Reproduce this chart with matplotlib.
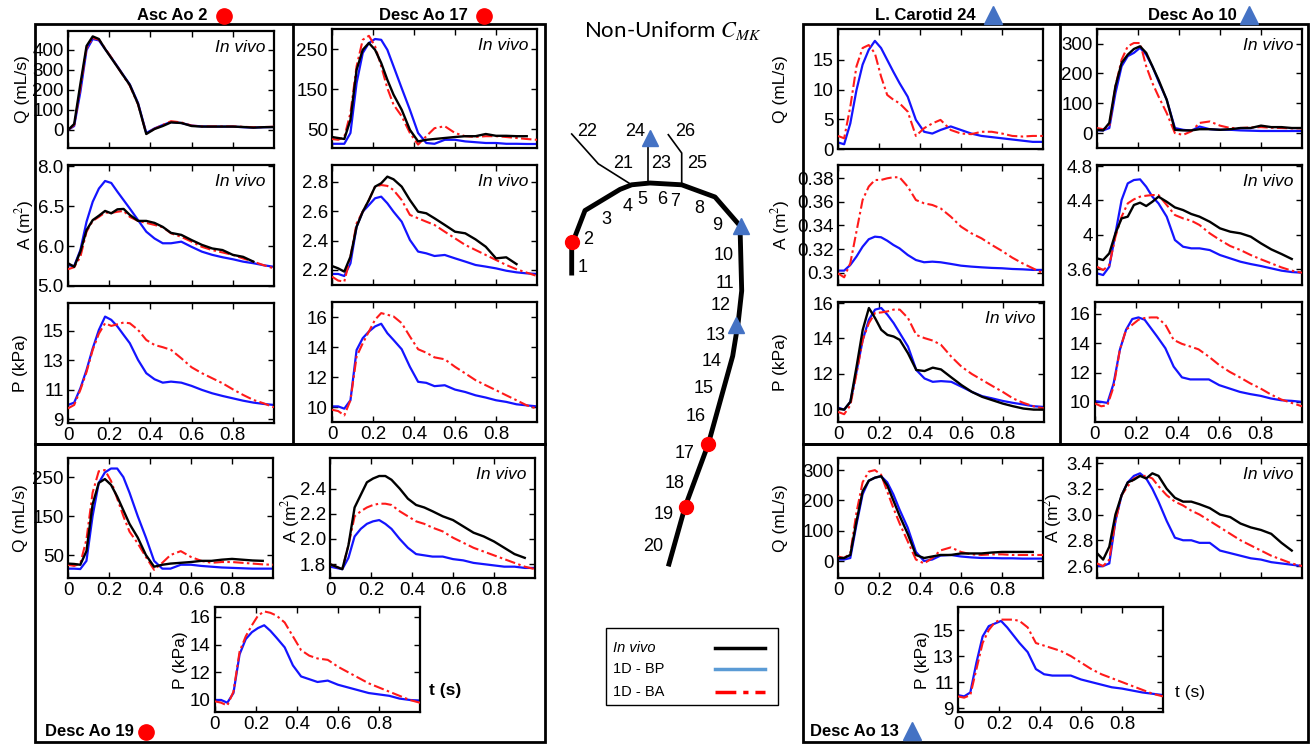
import numpy as np
import matplotlib
matplotlib.use("Agg")
import matplotlib.pyplot as plt
from matplotlib.patches import Rectangle

plt.rcParams['font.family'] = ['Liberation Sans', 'DejaVu Sans']
plt.rcParams['mathtext.fontset'] = 'stix'

nan = np.nan
W, H = 1311, 746

# ---------------- data ----------------
T = [0, .03, .06, .09, .12, .15, .18, .21, .24, .27, .30, .34, .38, .42, .46, .50,
     .55, .60, .65, .70, .75, .80, .85, .90, .95, 1.0]

# Asc Ao 2
asc_q_vivo = [0, 30, 230, 420, 468, 455, 405, 360, 315, 270, 225, 130, -20, 5, 20, 38, 35, 20, 17, 17, 17, 17, 15, 12, 14, 15]
asc_q_bp = [0, 20, 190, 400, 455, 448, 405, 362, 318, 272, 228, 135, -15, 8, 25, 40, 35, 22, 18, 17, 17, 17, 14, 12, 14, 15]
asc_q_ba = [0, 25, 210, 410, 460, 452, 408, 363, 316, 268, 222, 128, -18, 6, 25, 44, 38, 22, 18, 18, 18, 18, 16, 14, 15, 16]
asc_a_vivo = [5.57, 5.48, 5.86, 6.40, 6.65, 6.76, 6.88, 6.82, 6.92, 6.93, 6.78, 6.63, 6.63, 6.58, 6.48, 6.33, 6.28, 6.15, 6.03, 5.94, 5.90, 5.78, 5.73, 5.61, nan, nan]
asc_a_ba = [5.42, 5.47, 5.73, 6.36, 6.63, 6.73, 6.84, 6.83, 6.86, 6.88, 6.73, 6.63, 6.58, 6.53, 6.47, 6.32, 6.23, 6.11, 5.98, 5.90, 5.84, 5.78, 5.69, 5.61, 5.52, 5.44]
asc_a_bp = [5.52, 5.50, 5.90, 6.61, 7.11, 7.44, 7.63, 7.58, 7.36, 7.15, 6.94, 6.65, 6.36, 6.19, 6.07, 6.07, 6.11, 5.98, 5.86, 5.78, 5.72, 5.67, 5.61, 5.57, 5.52, 5.48]
asc_p_ba = [9.74, 9.97, 10.99, 12.2, 13.7, 14.8, 15.5, 15.32, 15.43, 15.55, 15.5, 15.05, 14.37, 14.03, 13.88, 13.7, 13.13, 12.52, 12.12, 11.78, 11.44, 11.03, 10.65, 10.31, 10.08, 9.81]
asc_p_bp = [9.97, 10.13, 11.1, 12.34, 13.8, 15.05, 15.95, 15.73, 15.28, 14.71, 14.15, 13.02, 12.12, 11.71, 11.48, 11.55, 11.48, 11.26, 10.99, 10.76, 10.58, 10.42, 10.26, 10.13, 10.04, 9.97]

# Desc Ao 17
d17_q_vivo = [30, 27.5, 25, 73, 198, 248, 265, 248, 215, 173, 136, 98, 48, 19, 23, 25, 27.5, 30, 32, 32, 37.5, 33, 33, 32, 32, nan]
d17_q_ba = [25, 23, 30, 90, 207, 273, 283, 257, 207, 152, 111, 82, 40, 11, 32, 52, 57, 40, 32, 30, 32, 32, 30, 27.5, 25, 23]
d17_q_bp = [13, 13, 13, 40, 165, 240, 265, 275, 273, 248, 207, 152, 98, 40, 15, 13, 23, 23, 19, 17, 15, 15, 13, 13, 12.5, 12.5]
d17_a_vivo = [2.227, 2.211, 2.189, 2.29, 2.494, 2.596, 2.675, 2.766, 2.789, 2.834, 2.816, 2.766, 2.675, 2.596, 2.585, 2.551, 2.506, 2.46, 2.449, 2.408, 2.358, 2.279, 2.286, 2.24, nan, nan]
d17_a_ba = [2.155, 2.128, 2.121, 2.29, 2.517, 2.596, 2.675, 2.766, 2.777, 2.771, 2.743, 2.675, 2.574, 2.551, 2.528, 2.506, 2.46, 2.415, 2.37, 2.336, 2.302, 2.268, 2.234, 2.205, 2.182, 2.159]
d17_a_bp = [2.173, 2.173, 2.159, 2.245, 2.494, 2.596, 2.641, 2.687, 2.698, 2.653, 2.596, 2.528, 2.404, 2.325, 2.313, 2.295, 2.302, 2.279, 2.257, 2.234, 2.223, 2.211, 2.195, 2.184, 2.177, 2.173]
d17_p_ba = [9.82, 9.73, 9.44, 10.45, 13.36, 14.25, 15.03, 15.82, 16.26, 16.15, 16.04, 15.59, 14.7, 13.85, 13.62, 13.31, 13.18, 12.68, 12.24, 11.79, 11.45, 11.12, 10.78, 10.45, 10.11, 9.89]
d17_p_bp = [10.04, 10.04, 9.89, 10.45, 13.8, 14.59, 15.03, 15.37, 15.55, 14.92, 14.47, 13.85, 12.68, 11.68, 11.61, 11.39, 11.45, 11.16, 11.0, 10.78, 10.63, 10.45, 10.34, 10.18, 10.11, 10.04]

# L. Carotid 24
lc_q_bp = [1.1, 0.8, 4.3, 9.9, 14.2, 16.7, 18.2, 17.0, 15.0, 13.0, 11.1, 8.8, 4.9, 2.9, 2.6, 3.2, 3.8, 3.2, 2.6, 2.2, 2.0, 1.8, 1.6, 1.4, 1.2, 1.2]
lc_q_ba = [2.2, 1.8, 7.1, 13.9, 17.0, 17.5, 16.1, 12.2, 9.1, 8.3, 7.7, 6.3, 2.2, 3.5, 4.3, 4.9, 3.2, 2.6, 2.5, 2.9, 2.9, 2.6, 2.2, 2.1, 2.2, 2.2]
lc_a_ba = [0.2994, 0.296, 0.308, 0.3348, 0.3616, 0.373, 0.3786, 0.3786, 0.38, 0.3809, 0.3809, 0.373, 0.3616, 0.3588, 0.3574, 0.3546, 0.3475, 0.339, 0.3334, 0.3291, 0.3235, 0.3184, 0.3127, 0.3079, 0.3037, 0.2994]
lc_a_bp = [0.3017, 0.3017, 0.3065, 0.3136, 0.322, 0.3283, 0.3305, 0.33, 0.3271, 0.3235, 0.3206, 0.315, 0.3107, 0.3088, 0.3093, 0.3088, 0.3074, 0.3059, 0.3051, 0.3045, 0.304, 0.3037, 0.3031, 0.3028, 0.3023, 0.3023]
lc_p_vivo = [10.04, 9.98, 10.42, 12.4, 14.49, 15.72, 15.15, 14.49, 14.2, 14.11, 13.92, 13.16, 12.22, 12.16, 12.35, 12.25, 11.8, 11.36, 10.98, 10.7, 10.51, 10.32, 10.17, 10.04, 9.98, 9.98]
lc_p_bp = [10.09, 9.98, 10.42, 12.12, 13.92, 15.06, 15.63, 15.72, 15.34, 14.87, 14.3, 13.54, 12.22, 11.74, 11.55, 11.59, 11.55, 11.27, 10.98, 10.74, 10.61, 10.47, 10.36, 10.27, 10.17, 10.13]
lc_p_ba = [9.85, 9.72, 10.23, 12.03, 13.92, 14.87, 15.44, 15.47, 15.53, 15.63, 15.63, 15.15, 14.2, 14.02, 13.88, 13.64, 12.97, 12.4, 11.99, 11.65, 11.31, 10.98, 10.61, 10.36, 10.17, 10.04]

# Desc Ao 10
d10_q_vivo = [11, 9, 34, 157, 235, 263, 282, 291, 269, 224, 179, 112, 11, 9, 9, 13, 13, 11, 13, 17, 17, 25, 20, 20, 17, 17]
d10_q_bp = [9, 9, 17, 134, 224, 258, 269, 286, 263, 224, 174, 112, 17, 11, 8, 22, 13, 11, 11, 9, 8, 7, 7, 7, 7, 7]
d10_q_ba = [17, 13, 22, 157, 246, 291, 302, 302, 224, 168, 123, 67, 0, -6, 6, 34, 39, 25, 17, 17, 19, 20, 18, 17, 16, 16]
d10_a_vivo = [3.724, 3.705, 3.783, 4.016, 4.19, 4.21, 4.346, 4.373, 4.334, 4.384, 4.443, 4.384, 4.318, 4.287, 4.241, 4.21, 4.151, 4.074, 4.035, 4.016, 3.977, 3.899, 3.829, 3.775, 3.717, nan]
d10_a_ba = [3.627, 3.588, 3.647, 3.977, 4.21, 4.365, 4.412, 4.443, 4.454, 4.462, 4.462, 4.346, 4.229, 4.19, 4.163, 4.113, 4.016, 3.938, 3.868, 3.821, 3.763, 3.713, 3.666, 3.619, 3.581, 3.557]
d10_a_bp = [3.55, 3.53, 3.627, 4.016, 4.404, 4.598, 4.637, 4.645, 4.559, 4.443, 4.365, 4.21, 3.938, 3.86, 3.841, 3.841, 3.821, 3.763, 3.724, 3.685, 3.658, 3.635, 3.608, 3.581, 3.565, 3.557]
d10_p_bp = [10.05, 10.0, 9.93, 11.26, 13.54, 14.91, 15.64, 15.75, 15.59, 15.02, 14.45, 13.65, 12.4, 11.67, 11.53, 11.53, 11.53, 11.14, 10.91, 10.68, 10.53, 10.41, 10.23, 10.11, 10.07, 10.0]
d10_p_ba = [9.89, 9.7, 9.77, 11.03, 13.54, 14.91, 15.25, 15.59, 15.71, 15.75, 15.75, 15.25, 14.22, 13.95, 13.77, 13.58, 13.08, 12.51, 12.05, 11.67, 11.26, 10.91, 10.5, 10.16, 9.93, 9.7]

# Desc Ao 19
d19_q_vivo = [28, 27, 25, 60, 180, 235, 245, 230, 200, 165, 130, 95, 50, 20, 25, 28, 30, 32, 35, 35, 38, 40, 38, 36, 35, nan]
d19_q_ba = [25, 22, 28, 90, 210, 265, 268, 240, 195, 150, 110, 80, 45, 12, 30, 50, 60, 45, 35, 30, 32, 32, 30, 28, 26, 25]
d19_q_bp = [15, 15, 14, 35, 150, 235, 262, 272, 272, 250, 210, 150, 95, 35, 15, 15, 25, 25, 22, 20, 18, 17, 16, 15, 15, 15]
d19_a_vivo = [1.80, 1.78, 1.76, 1.95, 2.25, 2.35, 2.45, 2.48, 2.50, 2.50, 2.47, 2.40, 2.32, 2.27, 2.25, 2.22, 2.18, 2.15, 2.10, 2.05, 2.02, 1.98, 1.93, 1.88, 1.85, nan]
d19_a_ba = [1.80, 1.78, 1.76, 1.95, 2.18, 2.22, 2.25, 2.27, 2.28, 2.28, 2.27, 2.22, 2.18, 2.14, 2.12, 2.09, 2.06, 2.01, 1.97, 1.93, 1.90, 1.87, 1.84, 1.81, 1.78, 1.76]
d19_a_bp = [1.78, 1.77, 1.76, 1.85, 2.02, 2.08, 2.12, 2.14, 2.15, 2.12, 2.08, 2.00, 1.93, 1.88, 1.87, 1.86, 1.86, 1.84, 1.83, 1.81, 1.80, 1.79, 1.78, 1.78, 1.77, 1.77]
d19_p_ba = [9.9, 9.8, 9.6, 10.6, 13.5, 14.6, 15.4, 16.1, 16.4, 16.3, 16.1, 15.6, 14.6, 13.6, 13.2, 13.0, 12.9, 12.4, 12.0, 11.6, 11.2, 10.9, 10.6, 10.3, 10.0, 9.8]
d19_p_bp = [10.0, 10.0, 9.8, 10.5, 13.3, 14.4, 14.9, 15.2, 15.4, 15.0, 14.5, 13.8, 12.5, 11.7, 11.5, 11.3, 11.4, 11.1, 10.9, 10.7, 10.5, 10.4, 10.3, 10.1, 10.0, 9.95]

# Desc Ao 13
d13_q_vivo = [10, 10, 20, 130, 230, 265, 275, 280, 250, 200, 150, 90, 20, 10, 15, 20, 20, 25, 25, 25, 28, 30, 30, 30, 30, nan]
d13_q_ba = [15, 10, 25, 160, 260, 295, 300, 285, 230, 175, 125, 65, 5, -8, 10, 35, 45, 30, 22, 20, 22, 22, 20, 20, 20, 20]
d13_q_bp = [5, 5, 10, 120, 220, 265, 275, 280, 260, 220, 170, 110, 30, 0, 5, 18, 20, 15, 12, 10, 10, 9, 9, 8, 8, 8]
d13_a_vivo = [2.70, 2.65, 2.75, 3.00, 3.15, 3.25, 3.27, 3.30, 3.28, 3.32, 3.30, 3.20, 3.13, 3.10, 3.10, 3.08, 3.05, 3.00, 2.98, 2.93, 2.90, 2.88, 2.85, 2.78, 2.72, nan]
d13_a_ba = [2.62, 2.60, 2.65, 2.95, 3.15, 3.22, 3.28, 3.30, 3.30, 3.28, 3.22, 3.15, 3.10, 3.07, 3.03, 3.00, 2.95, 2.90, 2.85, 2.80, 2.76, 2.72, 2.68, 2.65, 2.62, 2.60]
d13_a_bp = [2.60, 2.60, 2.62, 2.95, 3.15, 3.25, 3.30, 3.32, 3.28, 3.20, 3.10, 2.95, 2.82, 2.80, 2.80, 2.78, 2.78, 2.72, 2.70, 2.68, 2.66, 2.65, 2.63, 2.62, 2.61, 2.60]
d13_p_bp = [10.0, 9.9, 10.2, 12.5, 14.5, 15.3, 15.5, 15.7, 15.2, 14.6, 14.0, 13.3, 12.0, 11.6, 11.5, 11.5, 11.5, 11.2, 11.0, 10.8, 10.6, 10.5, 10.35, 10.2, 10.1, 10.0]
d13_p_ba = [9.9, 9.8, 10.0, 12.0, 14.0, 15.0, 15.6, 15.8, 15.8, 15.8, 15.7, 15.2, 14.0, 13.8, 13.6, 13.4, 13.0, 12.5, 12.0, 11.6, 11.3, 11.0, 10.7, 10.4, 10.1, 9.9]

x_ticks = [0, 0.2, 0.4, 0.6, 0.8]
x_tick_labels = ['0', '0.2', '0.4', '0.6', '0.8']

# vessel network sketch (pixel coordinates of the schematic)
aorta_x = [571.7, 571.7, 585, 620, 631.7, 650, 681.7, 715, 740, 741.7, 738.3, 732.7, 708.3, 685, 668.3]
aorta_y = [275.5, 245, 210.5, 189.4, 184.8, 183, 184.8, 197, 225.8, 290.8, 321.5, 356, 444, 507, 566.4]
branch22 = ([631.7, 598.3, 571.7], [184.8, 163.8, 134])
branch24 = ([648.3, 648.3], [183, 137.8])
branch26 = ([681.7, 681.7, 668.3], [184.8, 153, 134.7])
seg_labels = ['1', '2', '3', '4', '5', '6', '7', '8', '9', '10', '11', '12', '13', '14', '15', '16', '17', '18', '19', '20', '21', '22', '23', '24', '25', '26']
seg_lx = [582.7, 588.3, 606.7, 627.3, 642.7, 661.7, 675, 699.3, 716.7, 723.3, 725, 720.7, 716, 711.7, 703.3, 696, 685, 675, 664, 652.7, 623.3, 586.7, 660.7, 635, 696.7, 685]
seg_ly = [268, 240, 219, 206.7, 200, 199, 201, 208.6, 225.8, 255.6, 283, 306, 336, 361.7, 388.4, 416.4, 453.5, 484, 514.7, 546.5, 163.8, 132, 163.8, 132, 163.8, 132]
dots_x = [571.7, 708.3, 685.7]
dots_y = [242, 444, 507]
tris_x = [741, 736, 650]
tris_y = [225.8, 325, 137.8]

BLUE = '#1414ff'
RED = '#ff1a1a'
TRI = '#4472c4'
DASHDOT = (0, (5, 1.6, 1.2, 1.6))

fig = plt.figure(figsize=(W / 100, H / 100), dpi=100)

# overlay for frames, schematic, legend, labels
ov = fig.add_axes([0, 0, 1, 1])
ov.set_xlim(0, W)
ov.set_ylim(H, 0)
ov.axis('off')

for (x0, y0, x1, y1) in [(35, 24, 545, 444), (35, 444, 545, 742), (803, 24, 1308, 444), (803, 444, 1308, 742)]:
    ov.add_patch(Rectangle((x0, y0), x1 - x0, y1 - y0, fill=False, lw=2.0, ec='black'))
ov.plot([293, 293], [24, 444], color='black', lw=2.0)
ov.plot([1060, 1060], [24, 444], color='black', lw=2.0)

# schematic
ov.plot(aorta_x, aorta_y, color='black', lw=3.5, solid_capstyle='butt', solid_joinstyle='round')
for bx, by in [branch22, branch24, branch26]:
    ov.plot(bx, by, color='black', lw=1.2)
for lab, lx, ly in zip(seg_labels, seg_lx, seg_ly):
    ov.text(lx, ly, lab, fontsize=13, ha='center', va='center')
ov.plot(dots_x, dots_y, 'o', color='#ff0000', ms=10, zorder=5)
ov.plot(tris_x, tris_y, '^', color=TRI, ms=12, zorder=5)
ov.text(673, 30, r'Non-Uniform $C_{MK}$', fontsize=16, ha='center', va='center', family='Lato')

# legend
ov.add_patch(Rectangle((606, 628), 172, 77, fill=False, lw=1.0, ec='black'))
ov.text(613, 648, 'In vivo', fontsize=10.5, style='italic', va='center')
ov.text(613, 669, '1D - BP', fontsize=10.5, va='center')
ov.text(613, 692, '1D - BA', fontsize=10.5, va='center')
ov.plot([715, 765], [648, 648], color='black', lw=2.5)
ov.plot([715, 765], [669, 669], color='#5b9bd5', lw=2.5)
ov.plot([715, 765], [692, 692], color='#ff0000', lw=2.5, ls=(0, (6, 2, 1.5, 2)))

# titles
TFS = 12
def title(x, y, text, marker, mcolor, mx, ha='center'):
    ov.text(x, y, text, fontsize=TFS, fontweight='bold', ha=ha, va='center')
    ov.plot([mx], [y - (1 if marker == '^' else 0)], marker, color=mcolor,
            ms=11 if marker == 'o' else 13)

title(172, 16, 'Asc Ao 2', 'o', '#ff0000', 224)
title(423, 16, 'Desc Ao 17', 'o', '#ff0000', 484)
title(925, 16, 'L. Carotid 24', '^', TRI, 993)
title(1192, 16, 'Desc Ao 10', '^', TRI, 1249)
title(45, 732, 'Desc Ao 19', 'o', '#ff0000', 146, ha='left')
title(810, 732, 'Desc Ao 13', '^', TRI, 912, ha='left')
ov.text(445, 690, 't (s)', fontsize=12.5, fontweight='bold', ha='center', va='center')
ov.text(1190, 692, 't (s)', fontsize=12.5, ha='center', va='center')

# y-axis titles (pixel positions of their centres)
ylab_text = ['Q (mL/s)', 'A (m$^2$)', 'P (kPa)'] * 4
ylab_x = [22, 24, 21, 20, 290, 181, 781, 781, 781, 781, 1053, 923]
ylab_y = [89, 225, 363, 518, 518, 660, 89, 225, 362, 518, 518, 660]
for s, lx, ly in zip(ylab_text, ylab_x, ylab_y):
    ov.text(lx, ly, s, fontsize=12.5, rotation=90, ha='center', va='center')


def panel(rect, ylim, yticks, ylabels, vivo=None, bp=None, ba=None,
          xlabels=False, invivo_text=False):
    x0, y0, x1, y1 = rect
    ax = fig.add_axes([x0 / W, 1 - y1 / H, (x1 - x0) / W, (y1 - y0) / H])
    if vivo is not None:
        ax.plot(T, vivo, color='black', lw=1.7, zorder=4)
    if ba is not None:
        ax.plot(T, ba, color=RED, lw=1.5, ls=DASHDOT, zorder=3)
    if bp is not None:
        ax.plot(T, bp, color=BLUE, lw=1.6, zorder=2)
    ax.set_xlim(0, 1)
    ax.set_ylim(*ylim)
    ax.set_xticks(x_ticks)
    ax.set_yticks(yticks)
    ax.set_yticklabels(ylabels)
    if xlabels:
        ax.set_xticklabels(x_tick_labels)
    else:
        ax.set_xticklabels([])
    ax.tick_params(direction='in', top=True, right=True, length=4, width=1,
                   labelsize=13.5, pad=3)
    for s in ax.spines.values():
        s.set_linewidth(1.6)
    if invivo_text:
        ax.text(0.96, 0.86, 'In vivo', transform=ax.transAxes, fontsize=12.5,
                style='italic', ha='right', va='center')
    return ax

# Asc Ao 2
panel((68, 31, 274, 148), (-90, 495), [0, 100, 200, 300, 400], ['0', '100', '200', '300', '400'],
      asc_q_vivo, asc_q_bp, asc_q_ba, invivo_text=True)
panel((68, 165, 274, 286), (5.0, 8.03), [5, 6, 7, 8], ['5.0', '6.0', '6.5', '8.0'],
      asc_a_vivo, asc_a_bp, asc_a_ba, invivo_text=True)
panel((68, 303, 274, 423), (8.75, 16.87), [9, 11, 13, 15], ['9', '11', '13', '15'],
      None, asc_p_bp, asc_p_ba, xlabels=True)
# Desc Ao 17
panel((332, 29, 537, 148), (2.5, 300), [50, 150, 250], ['50', '150', '250'],
      d17_q_vivo, d17_q_bp, d17_q_ba, invivo_text=True)
panel((332, 165, 537, 285), (2.098, 2.913), [2.2, 2.4, 2.6, 2.8], ['2.2', '2.4', '2.6', '2.8'],
      d17_a_vivo, d17_a_bp, d17_a_ba, invivo_text=True)
panel((332, 302, 537, 422), (9.0, 17.0), [10, 12, 14, 16], ['10', '12', '14', '16'],
      None, d17_p_bp, d17_p_ba, xlabels=True)
# L. Carotid 24
panel((838, 29, 1043, 149), (0, 20.2), [0, 5, 10, 15], ['0', '5', '10', '15'],
      None, lc_q_bp, lc_q_ba)
panel((838, 165, 1043, 285), (0.2895, 0.3913), [0.30, 0.32, 0.34, 0.36, 0.38], ['0.3', '0.32', '0.34', '0.36', '0.38'],
      None, lc_a_bp, lc_a_ba)
panel((838, 302, 1044, 422), (9.28, 16.06), [10, 12, 14, 16], ['10', '12', '14', '16'],
      lc_p_vivo, lc_p_bp, lc_p_ba, xlabels=True, invivo_text=True)
# Desc Ao 10
panel((1097, 29, 1302, 148), (-50, 349), [0, 100, 200, 300], ['0', '100', '200', '300'],
      d10_q_vivo, d10_q_bp, d10_q_ba, invivo_text=True)
panel((1097, 165, 1302, 285), (3.414, 4.812), [3.6, 4.0, 4.4, 4.8], ['3.6', '4', '4.4', '4.8'],
      d10_a_vivo, d10_a_bp, d10_a_ba, invivo_text=True)
panel((1095, 302, 1302, 422), (8.63, 16.8), [10, 12, 14, 16], ['10', '12', '14', '16'],
      None, d10_p_bp, d10_p_ba, xlabels=True)
# Desc Ao 19
panel((68, 458, 273, 578), (-9, 299), [50, 150, 250], ['50', '150', '250'],
      d19_q_vivo, d19_q_bp, d19_q_ba, xlabels=True)
panel((330, 458, 535, 578), (1.69, 2.643), [1.8, 2.0, 2.2, 2.4], ['1.8', '2.0', '2.2', '2.4'],
      d19_a_vivo, d19_a_bp, d19_a_ba, xlabels=True, invivo_text=True)
panel((215, 607, 420, 712), (9.13, 16.72), [10, 12, 14, 16], ['10', '12', '14', '16'],
      None, d19_p_bp, d19_p_ba, xlabels=True)
# Desc Ao 13
panel((838, 458, 1043, 578), (-56, 340), [0, 100, 200, 300], ['0', '100', '200', '300'],
      d13_q_vivo, d13_q_bp, d13_q_ba, xlabels=True)
panel((1097, 458, 1302, 578), (2.507, 3.439), [2.6, 2.8, 3.0, 3.2, 3.4], ['2.6', '2.8', '3.0', '3.2', '3.4'],
      d13_a_vivo, d13_a_bp, d13_a_ba, invivo_text=True)
panel((958, 607, 1163, 712), (8.7, 16.77), [9, 11, 13, 15], ['9', '11', '13', '15'],
      None, d13_p_bp, d13_p_ba, xlabels=True)

fig.savefig('out.png', dpi=100)
